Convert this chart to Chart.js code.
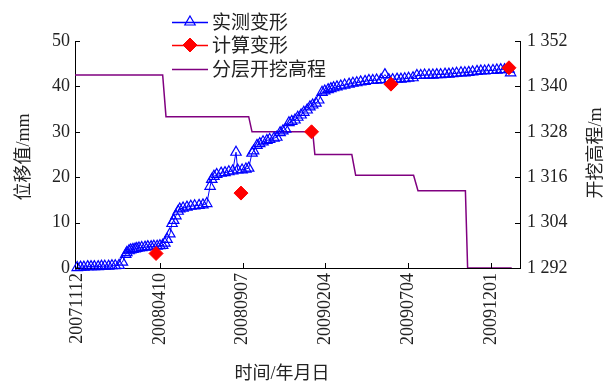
<!DOCTYPE html>
<html>
<head>
<meta charset="utf-8">
<script src="https://cdn.jsdelivr.net/npm/chart.js@4"></script>
<style>
  html, body { margin: 0; padding: 0; background: #fff; }
  #wrap { width: 613px; height: 385px; }
</style>
</head>
<body>
<div id="wrap"><canvas id="dispChart" width="613" height="385"></canvas></div>
<script>
// ===== Data (x = days after 2007-11-12) =====
const xTickDays = [0, 150, 300, 450, 600, 750];
const xTickLabels = ["20071112", "20080410", "20080907", "20090204", "20090704", "20091201"];

// measured deformation (mm)
const measuredDays = [
  0, 6, 12, 19, 25, 31, 38, 44, 50, 57, 63, 69, 76, 82,
  88, 90, 94, 97, 101, 105, 108, 112, 117, 123, 128, 134, 139, 145, 150, 155,
  159, 163, 168, 172, 175, 179, 183, 186, 192, 199, 206, 213, 221, 228, 235,
  241, 244, 248, 253, 261, 268, 275, 282, 288, 291, 299, 306, 311,
  317, 320, 326, 331, 337, 344, 349, 357, 362, 368, 373, 378, 384, 389, 395,
  400, 406, 411, 417, 422, 427, 433, 438, 444, 449, 455, 460, 465, 471,
  478, 485, 493, 500, 507, 514, 522, 529, 536, 543, 551, 558, 565, 572,
  580, 587, 594, 601, 609, 616, 623, 630, 638, 645, 652, 659, 667, 674,
  681, 688, 696, 703, 710, 717, 725, 732, 739, 746, 754, 761, 768, 775, 783, 786
];
const measuredValues = [
  0.1, 0.2, 0.2, 0.3, 0.3, 0.3, 0.3, 0.4, 0.4, 0.4, 0.5, 0.5, 0.6, 1.3,
  3.0, 3.4, 3.8, 4.0, 4.1, 4.2, 4.3, 4.4, 4.5, 4.6, 4.7, 4.7, 4.8, 4.8, 4.9, 5.0,
  5.5, 6.3, 7.5, 9.8, 10.5, 11.5, 12.5, 13.0, 13.2, 13.4, 13.6, 13.7, 13.8, 13.9, 14.2,
  18.0, 19.5, 20.2, 20.6, 20.9, 21.0, 21.2, 21.4, 25.5, 21.6, 21.6, 21.8, 22.0,
  25.3, 25.8, 27.0, 27.4, 27.8, 28.1, 28.3, 28.6, 28.8, 29.8, 30.2, 30.6, 32.0, 32.3, 32.6,
  33.2, 33.7, 34.3, 34.8, 35.5, 35.9, 36.3, 37.0, 38.7, 39.0, 39.3, 39.5, 39.7, 39.9,
  40.1, 40.3, 40.5, 40.7, 40.8, 41.0, 41.1, 41.3, 41.3, 41.4, 41.5, 42.6, 41.5, 41.5,
  41.6, 41.6, 41.7, 41.8, 41.9, 42.4, 42.4, 42.5, 42.5, 42.5, 42.6, 42.6, 42.7, 42.7,
  42.8, 42.9, 43.0, 43.0, 43.1, 43.2, 43.3, 43.4, 43.4, 43.5, 43.5, 43.6, 43.7, 43.7, 43.8, 43.0
];

// calculated deformation (mm)
const calcDays = [143, 297, 425, 569, 783];
const calcValues = [3.2, 16.5, 30.0, 40.5, 44.1];

// excavation elevation (m)
const elevDays = [-4, 155, 161, 311, 317, 427, 431, 498, 505, 610, 618, 704, 708, 788];
const elevValues = [1343, 1343, 1332, 1332, 1328, 1328, 1322, 1322, 1316.5, 1316.5, 1312.4, 1312.4, 1292, 1292];

const toXY = (xs, ys) => xs.map((x, i) => ({ x: x, y: ys[i] }));

const serif = '"Liberation Serif", "Noto Sans CJK SC", serif';
const cjk = '"Noto Sans CJK SC", "Liberation Serif", sans-serif';

// ===== Inward tick marks, axis titles, legend =====
const decorPlugin = {
  id: "decor",
  afterDraw(chart) {
    const ctx = chart.ctx;
    const area = chart.chartArea;
    const sx = chart.scales.x, sl = chart.scales.y, sr = chart.scales.y2;
    ctx.save();
    ctx.strokeStyle = "#000";
    ctx.lineWidth = 1;
    ctx.beginPath();
    sx.ticks.forEach(t => {
      const px = Math.round(sx.getPixelForValue(t.value)) + 0.5;
      ctx.moveTo(px, area.bottom); ctx.lineTo(px, area.bottom - 5);
    });
    sl.ticks.forEach(t => {
      const py = Math.round(sl.getPixelForValue(t.value)) + 0.5;
      ctx.moveTo(area.left, py); ctx.lineTo(area.left + 5, py);
    });
    sr.ticks.forEach(t => {
      const py = Math.round(sr.getPixelForValue(t.value)) + 0.5;
      ctx.moveTo(area.right, py); ctx.lineTo(area.right - 5, py);
    });
    ctx.stroke();

    // axis titles
    ctx.fillStyle = "#222";
    ctx.font = "18px " + serif;
    ctx.textAlign = "center";
    ctx.textBaseline = "middle";
    ctx.save();
    ctx.translate(24, 157);
    ctx.rotate(-Math.PI / 2);
    ctx.fillText("位移值/mm", 0, 0);
    ctx.restore();
    ctx.save();
    ctx.translate(596, 153);
    ctx.rotate(-Math.PI / 2);
    ctx.fillText("开挖高程/m", 0, 0);
    ctx.restore();
    ctx.fillText("时间/年月日", 282, 374);

    // legend
    const items = [
      { ds: chart.data.datasets[0], y: 22, label: "实测变形" },
      { ds: chart.data.datasets[1], y: 45, label: "计算变形" },
      { ds: chart.data.datasets[2], y: 69, label: "分层开挖高程" }
    ];
    items.forEach(it => {
      ctx.strokeStyle = it.ds.borderColor;
      ctx.lineWidth = 1.3;
      ctx.beginPath();
      ctx.moveTo(172, it.y + 0.5); ctx.lineTo(208, it.y + 0.5);
      ctx.stroke();
      if (!it.ds.pointRadius) return;
      ctx.fillStyle = it.ds.pointBackgroundColor;
      ctx.strokeStyle = it.ds.pointBorderColor;
      ctx.lineWidth = it.ds.pointBorderWidth || 1;
      Chart.helpers.drawPoint(ctx, {
        pointStyle: it.ds.pointStyle,
        radius: it.ds.pointRadius,
        rotation: 0,
        borderWidth: it.ds.pointBorderWidth || 1
      }, 190, it.y);
    });
    ctx.fillStyle = "#222";
    ctx.font = "19px " + cjk;
    ctx.textAlign = "left";
    items.forEach(it => ctx.fillText(it.label, 212, it.y));
    ctx.restore();
  }
};

const ctx = document.getElementById("dispChart").getContext("2d");
new Chart(ctx, {
  type: "line",
  data: {
    datasets: [
      {
        label: "实测变形",
        data: toXY(measuredDays, measuredValues),
        yAxisID: "y",
        borderColor: "#0000ff",
        borderWidth: 1,
        pointStyle: "triangle",
        pointRadius: 6,
        pointBorderWidth: 1.2,
        pointBorderColor: "#0000ff",
        pointBackgroundColor: "rgba(255,255,255,0)",
        tension: 0,
        clip: false,
        order: 1
      },
      {
        label: "计算变形",
        data: toXY(calcDays, calcValues),
        yAxisID: "y",
        borderColor: "#ff0000",
        showLine: false,
        pointStyle: "rectRot",
        pointRadius: 7,
        pointBorderWidth: 1,
        pointBorderColor: "#ff0000",
        pointBackgroundColor: "#ff0000",
        clip: false,
        order: 0
      },
      {
        label: "分层开挖高程",
        data: toXY(elevDays, elevValues),
        yAxisID: "y2",
        borderColor: "#800080",
        borderWidth: 1.5,
        pointRadius: 0,
        tension: 0,
        order: 2
      }
    ]
  },
  options: {
    responsive: false,
    animation: false,
    devicePixelRatio: 1,
    layout: { padding: { top: 41, left: 0, right: 0, bottom: 0 } },
    plugins: { legend: { display: false }, tooltip: { enabled: false } },
    scales: {
      x: {
        type: "linear",
        min: -4,
        max: 803,
        afterFit: s => { s.height = 117; },
        afterBuildTicks: s => { s.ticks = xTickDays.map(v => ({ value: v })); },
        ticks: {
          autoSkip: false,
          minRotation: 90,
          maxRotation: 90,
          padding: 5,
          color: "#222",
          font: { family: serif, size: 18 },
          callback: v => xTickLabels[xTickDays.indexOf(v)]
        },
        grid: { display: true, drawOnChartArea: false, drawTicks: false },
        border: { color: "#000", width: 1 }
      },
      y: {
        position: "left",
        min: 0,
        max: 50,
        afterFit: s => { s.width = 75; },
        ticks: { stepSize: 10, padding: 5, color: "#222", font: { family: serif, size: 18 } },
        grid: { display: true, drawOnChartArea: false, drawTicks: false },
        border: { color: "#000", width: 1 }
      },
      y2: {
        position: "right",
        min: 1292,
        max: 1352,
        afterFit: s => { s.width = 93; },
        ticks: {
          stepSize: 12,
          padding: 7,
          color: "#222",
          font: { family: serif, size: 18 },
          callback: v => String(v).replace(/^(\d)(\d{3})$/, "$1 $2")
        },
        grid: { display: true, drawOnChartArea: false, drawTicks: false },
        border: { color: "#000", width: 1 }
      }
    }
  },
  plugins: [decorPlugin]
});
</script>
</body>
</html>
